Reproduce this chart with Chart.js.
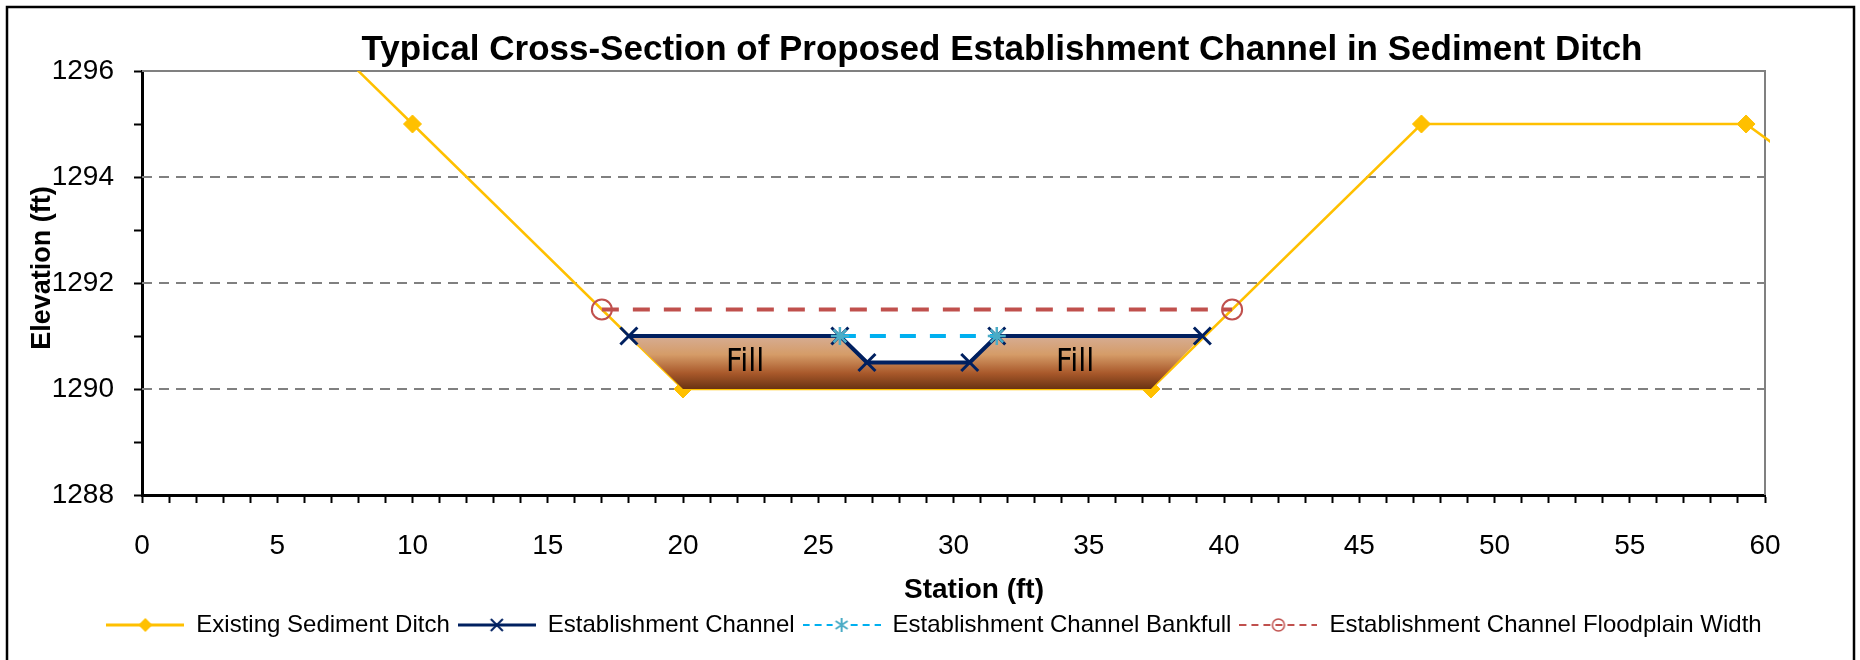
<!DOCTYPE html>
<html>
<head>
<meta charset="utf-8">
<script src="https://cdn.jsdelivr.net/npm/chart.js@4.4.0/dist/chart.umd.min.js"></script>
<style>
  body { margin: 0; background: #fff; }
  #wrap { width: 1860px; height: 660px; }
</style>
</head>
<body>
<div id="wrap"><canvas id="xsec" width="1860" height="660"></canvas></div>
<script>
// station (ft) and elevation (ft)
const ditchX = [6, 10, 20, 37.3, 47.3, 59.3, 62];
const ditchY = [1297, 1295, 1290, 1290, 1295, 1295, 1294];

const channelX = [18, 25.8, 26.8, 30.6, 31.6, 39.2];
const channelY = [1291, 1291, 1290.5, 1290.5, 1291, 1291];

const bankfullX = [25.8, 31.6];
const bankfullY = [1291, 1291];

const floodX = [17, 40.3];
const floodY = [1291.5, 1291.5];

// fill placed under the new channel (closed outline)
const fillX = [18, 25.8, 26.8, 30.6, 31.6, 39.2, 37.3, 20];
const fillY = [1291, 1291, 1290.5, 1290.5, 1291, 1291, 1290, 1290];
const fillLabelX = [22.3, 34.5];
const fillLabelY = [1290.5, 1290.5];

const gridElev = [1290, 1292, 1294];

const seriesNames = [
    "Existing Sediment Ditch",
    "Establishment Channel",
    "Establishment Channel Bankfull",
    "Establishment Channel Floodplain Width"
];

const FONT = "'Liberation Sans', Arial, sans-serif";

const pts = (xs, ys) => xs.map((x, i) => ({ x, y: ys[i] }));

// little line+marker pictures for the legend
function makeIcon(draw) {
    const c = document.createElement("canvas");
    c.width = 78;
    c.height = 24;
    draw(c.getContext("2d"));
    return c;
}

const legendIcons = [
    makeIcon(g => {
        g.strokeStyle = "#FFC000"; g.lineWidth = 3;
        g.beginPath(); g.moveTo(0, 12); g.lineTo(78, 12); g.stroke();
        g.fillStyle = "#FFC000";
        g.beginPath(); g.moveTo(39, 5); g.lineTo(46, 12); g.lineTo(39, 19); g.lineTo(32, 12); g.closePath(); g.fill();
    }),
    makeIcon(g => {
        g.strokeStyle = "#002060"; g.lineWidth = 3;
        g.beginPath(); g.moveTo(0, 12); g.lineTo(78, 12); g.stroke();
        g.lineWidth = 2;
        g.beginPath(); g.moveTo(33, 6); g.lineTo(45, 18); g.moveTo(45, 6); g.lineTo(33, 18); g.stroke();
    }),
    makeIcon(g => {
        g.strokeStyle = "#00B0F0"; g.lineWidth = 2; g.setLineDash([7, 5]);
        g.beginPath(); g.moveTo(0, 12); g.lineTo(30, 12); g.moveTo(48, 12); g.lineTo(78, 12); g.stroke();
        g.setLineDash([]);
        g.strokeStyle = "#4BACC6";
        g.beginPath();
        g.moveTo(39, 5); g.lineTo(39, 19);
        g.moveTo(33, 8); g.lineTo(45, 16);
        g.moveTo(45, 8); g.lineTo(33, 16);
        g.stroke();
    }),
    makeIcon(g => {
        g.strokeStyle = "#C0504D"; g.lineWidth = 2; g.setLineDash([7, 5]);
        g.beginPath(); g.moveTo(0, 12); g.lineTo(78, 12); g.stroke();
        g.setLineDash([]); g.lineWidth = 1.5;
        g.beginPath(); g.arc(39, 12, 6, 0, Math.PI * 2); g.stroke();
    })
];

function fillGradient(c) {
    const chart = c.chart;
    if (!chart.chartArea) return "#C98A5A";
    const y = chart.scales.y;
    const top = y.getPixelForValue(Math.max(...fillY));
    const bot = y.getPixelForValue(Math.min(...fillY));
    const g = chart.ctx.createLinearGradient(0, top, 0, bot);
    g.addColorStop(0, "#D6AD94");
    g.addColorStop(0.35, "#D59C68");
    g.addColorStop(0.7, "#A9592B");
    g.addColorStop(1, "#6A3312");
    return g;
}

// grid, plot frame, titles, "Fill" text, outer frame
const sectionExtras = {
    id: "sectionExtras",
    afterLayout(chart) {
        // legend sits a bit right of the canvas middle in the original
        const lg = chart.legend;
        if (!lg) return;
        const shift = 934 - (lg.left + lg.right) / 2;
        lg.left += shift;
        lg.right += shift;
    },
    beforeDatasetsDraw(chart) {
        const { ctx, chartArea: a, scales: { y } } = chart;
        ctx.save();
        ctx.strokeStyle = "#808080";
        ctx.lineWidth = 2;
        ctx.setLineDash([10, 7]);
        gridElev.forEach(v => {
            const py = Math.round(y.getPixelForValue(v));
            ctx.beginPath(); ctx.moveTo(a.left, py); ctx.lineTo(a.right, py); ctx.stroke();
        });
        ctx.setLineDash([]);
        ctx.beginPath();
        ctx.moveTo(a.left, a.top); ctx.lineTo(a.right, a.top); ctx.lineTo(a.right, a.bottom);
        ctx.stroke();
        ctx.restore();
    },
    afterDraw(chart) {
        const { ctx, scales: { x, y } } = chart;
        ctx.save();
        ctx.fillStyle = "#000";
        ctx.textAlign = "center";
        ctx.textBaseline = "middle";

        ctx.font = "32px 'DejaVu Sans Condensed', 'Open Sans', sans-serif";
        fillLabelX.forEach((v, i) => {
            ctx.fillText("Fill", x.getPixelForValue(v), y.getPixelForValue(fillLabelY[i]));
        });

        ctx.font = "bold 35px " + FONT;
        ctx.fillText("Typical Cross-Section of Proposed Establishment Channel in Sediment Ditch", 1002, 50);

        ctx.font = "bold 28px " + FONT;
        ctx.fillText("Station (ft)", 974, 590);

        ctx.save();
        ctx.translate(43, 268);
        ctx.rotate(-Math.PI / 2);
        ctx.font = "bold 27px " + FONT;
        ctx.fillText("Elevation (ft)", 0, 0);
        ctx.restore();

        ctx.strokeStyle = "#000";
        ctx.lineWidth = 2.5;
        ctx.strokeRect(7, 7, 1847, 700);
        ctx.restore();
    }
};

const axisTicks = {
    drawOnChartArea: false,
    drawTicks: true,
    tickLength: 8,
    tickColor: "#000",
    tickWidth: 2
};

new Chart(document.getElementById("xsec"), {
    type: "line",
    data: {
        datasets: [
            {
                label: seriesNames[0],
                data: pts(ditchX, ditchY),
                borderColor: "#FFC000",
                backgroundColor: "#FFC000",
                borderWidth: 2.5,
                pointStyle: "rectRot",
                pointRadius: 9,
                pointBorderWidth: 1,
                clip: { left: 0, top: 0, right: 5, bottom: 0 },
                order: 10
            },
            {
                label: "Fill",
                data: pts(fillX, fillY),
                borderWidth: 0,
                pointRadius: 0,
                fill: "shape",
                backgroundColor: fillGradient,
                order: 9
            },
            {
                label: seriesNames[3],
                data: pts(floodX, floodY),
                borderColor: "#C0504D",
                borderWidth: 4,
                borderDash: [17, 14],
                pointStyle: "circle",
                pointRadius: 10,
                pointBorderWidth: 2,
                pointBorderColor: "#C0504D",
                pointBackgroundColor: "rgba(0,0,0,0)",
                order: 4
            },
            {
                label: seriesNames[1],
                data: pts(channelX, channelY),
                borderColor: "#002060",
                backgroundColor: "#002060",
                borderWidth: 4,
                pointStyle: "crossRot",
                pointRadius: 12,
                pointBorderWidth: 3,
                order: 3
            },
            {
                label: seriesNames[2],
                data: pts(bankfullX, bankfullY),
                borderColor: "#00B0F0",
                borderWidth: 4,
                borderDash: [16, 14],
                pointStyle: "star",
                pointRadius: 9,
                pointBorderWidth: 2.5,
                pointBorderColor: "#4BACC6",
                order: 2
            }
        ]
    },
    options: {
        responsive: false,
        animation: false,
        devicePixelRatio: 1,
        layout: { padding: { top: 71, right: 95, bottom: 13, left: 0 } },
        plugins: {
            tooltip: { enabled: false },
            title: { display: false },
            legend: {
                position: "bottom",
                labels: {
                    usePointStyle: true,
                    pointStyleWidth: 78,
                    padding: 8,
                    color: "#000",
                    font: { family: FONT, size: 24 },
                    generateLabels: () => seriesNames.map((name, i) => ({
                        text: name,
                        pointStyle: legendIcons[i],
                        fillStyle: "rgba(0,0,0,0)",
                        strokeStyle: "rgba(0,0,0,0)",
                        lineWidth: 0,
                        hidden: false,
                        datasetIndex: i
                    }))
                }
            }
        },
        scales: {
            x: {
                type: "linear",
                min: 0,
                max: 60,
                afterFit: s => { s.height = 110; },
                ticks: {
                    stepSize: 1,
                    autoSkip: false,
                    maxRotation: 0,
                    padding: 26,
                    color: "#000",
                    font: { family: FONT, size: 28 },
                    callback: v => Math.round(v) % 5 === 0 ? String(Math.round(v)) : ""
                },
                grid: axisTicks,
                border: { color: "#000", width: 3 }
            },
            y: {
                min: 1288,
                max: 1296,
                afterFit: s => { s.width = 142; },
                ticks: {
                    stepSize: 1,
                    padding: 20,
                    color: "#000",
                    font: { family: FONT, size: 28 },
                    callback: v => Math.round(v) % 2 === 0 ? String(Math.round(v)) : ""
                },
                grid: axisTicks,
                border: { color: "#000", width: 3 }
            }
        }
    },
    plugins: [sectionExtras]
});
</script>
</body>
</html>
